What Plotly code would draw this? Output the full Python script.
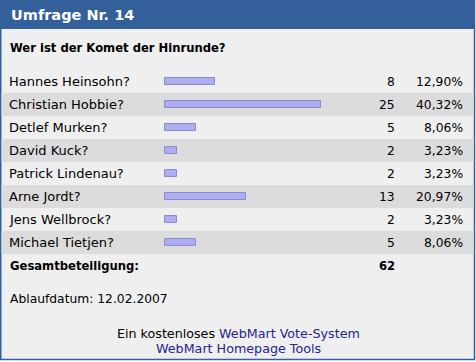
import plotly.graph_objects as go

names = ["Hannes Heinsohn?", "Christian Hobbie?", "Detlef Murken?", "David Kuck?",
         "Patrick Lindenau?", "Arne Jordt?", "Jens Wellbrock?", "Michael Tietjen?"]
votes = [8, 25, 5, 2, 2, 13, 2, 5]
percents = ["12,90%", "40,32%", "8,06%", "3,23%", "3,23%", "20,97%", "3,23%", "8,06%"]
total_label = "Gesamtbeteiligung:"
total = 62
title = "Umfrage Nr. 14"
question = "Wer ist der Komet der Hinrunde?"
expiry = "Ablaufdatum: 12.02.2007"

W, H = 476, 362
FONT = "DejaVu Sans"
FS = 13        # names
FS_NUM = 12.3  # numbers / date
FS_B = 11.6    # bold texts
FS_FOOT = 12.7
FS_HEAD = 14.5
BLUE = "#33609a"
LINK = "#24248e"

# pixel mapping helpers
ROW0, ROWH = 81.5, 23.0
BAR_X0, PX_PER_VOTE = 165.0, 6.24
xr0 = -BAR_X0 / PX_PER_VOTE
xr1 = xr0 + W / PX_PER_VOTE
yr_top = -ROW0 / ROWH
yr_bot = (H - ROW0) / ROWH

def px(x):
    return x / W

def py(y):
    return 1 - y / H

idx = list(range(len(names)))

fig = go.Figure()
fig.add_trace(go.Bar(
    x=votes, y=idx, orientation="h", width=0.28,
    marker=dict(color="#adadf0", line=dict(color="#8a8ad2", width=1)),
    hoverinfo="skip", showlegend=False,
))

shapes = []
# panel background with border
shapes.append(dict(type="rect", xref="paper", yref="paper",
                   x0=px(0.75), x1=px(474.5), y0=py(359.5), y1=py(0.5),
                   fillcolor="#efefef", line=dict(color=BLUE, width=1.5), layer="below"))
# header
shapes.append(dict(type="rect", xref="paper", yref="paper",
                   x0=px(0), x1=px(475), y0=py(29), y1=py(0),
                   fillcolor=BLUE, line=dict(width=0), layer="below"))
# stripes
for i in idx:
    if i % 2 == 1:
        shapes.append(dict(type="rect", xref="paper", yref="y",
                           x0=px(1.5), x1=px(473.5), y0=i - 0.5, y1=i + 0.5,
                           fillcolor="#dcdcdc", line=dict(width=0), layer="below"))

def txt(text, x, y, anchor, size, color="black", yref="paper"):
    return dict(text=text, x=px(x), y=y if yref == "y" else py(y), xref="paper", yref=yref,
                xanchor=anchor, yanchor="middle", showarrow=False,
                font=dict(family=FONT, size=size, color=color))

ann = []
ann.append(txt(f"<b>{title}</b>", 9, 15, "left", FS_HEAD, "white"))
ann.append(txt(f"<b>{question}</b>", 8, 48, "left", FS_B))
for i, (n, v, p) in enumerate(zip(names, votes, percents)):
    ann.append(txt(n, 7, i, "left", FS, yref="y"))
    ann.append(txt(str(v), 397, i, "right", FS_NUM, yref="y"))
    ann.append(txt(p, 465, i, "right", FS_NUM, yref="y"))
ann.append(txt(f"<b>{total_label}</b>", 8, len(names), "left", FS_B, yref="y"))
ann.append(txt(f"<b>{total}</b>", 397, len(names), "right", FS_B, yref="y"))
ann.append(txt(expiry, 8, 299, "left", FS_NUM))
ann.append(txt(f"Ein kostenloses <span style='color:{LINK}'>WebMart Vote-System</span>",
               238, 333, "center", FS_FOOT))
ann.append(txt("WebMart Homepage Tools", 238, 348, "center", FS_FOOT, LINK))

fig.update_layout(
    width=W, height=H, margin=dict(l=0, r=0, t=0, b=0),
    paper_bgcolor="white", plot_bgcolor="rgba(0,0,0,0)",
    xaxis=dict(range=[xr0, xr1], visible=False, fixedrange=True),
    yaxis=dict(range=[yr_bot, yr_top], visible=False, fixedrange=True),
    shapes=shapes, annotations=ann, bargap=0,
)

fig.write_html("out.html", config={"displayModeBar": False},
               post_script="document.body.style.margin='0';document.body.style.overflow='hidden';")
